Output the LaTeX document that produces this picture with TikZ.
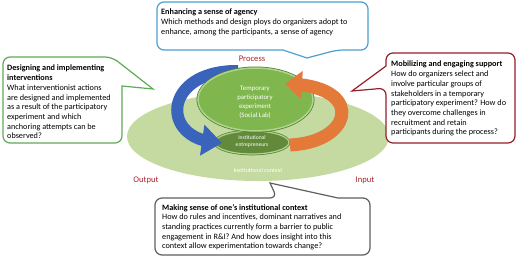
\documentclass[tikz,border=0pt]{standalone}
\usepackage{fontspec}
\setmainfont{Carlito}
\usetikzlibrary{arrows.meta,bending}
\definecolor{agencyblue}{RGB}{75,160,210}
\definecolor{interventgreen}{RGB}{95,170,85}
\definecolor{supportred}{RGB}{150,30,40}
\definecolor{contextgray}{RGB}{95,95,95}
\definecolor{labelred}{RGB}{170,35,45}
\definecolor{ctxgreen}{RGB}{196,218,160}
\definecolor{labgreen}{RGB}{128,182,78}
\definecolor{labring}{RGB}{175,212,140}
\definecolor{labedge}{RGB}{85,125,55}
\definecolor{entregreen}{RGB}{98,138,58}
\definecolor{arrowblue}{RGB}{58,100,188}
\definecolor{arroworange}{RGB}{228,122,58}
\begin{document}
\begin{tikzpicture}[x=1pt,y=-1pt,
  box/.style={line width=1.2pt,rounded corners=7pt,fill=white},
  boxtext/.style={anchor=north west,inner sep=0pt,align=left,font=\fontsize{8.2}{9.7}\selectfont},
  phase/.style={text=labelred,font=\fontsize{8.6}{10}\selectfont}]
\useasboundingbox (0,0) rectangle (520,257);
% institutional context
\fill[ctxgreen] (258,136.5) ellipse [x radius=131pt,y radius=44.5pt];
\node[text=white,font=\fontsize{6}{7}\selectfont] (ctx) at (258,170) {Institutional context};
% entrepreneurs
\draw[labedge,line width=2.6pt] (252,142.5) ellipse [x radius=37pt,y radius=11.5pt];
\draw[fill=entregreen,draw=labring,line width=1.2pt] (252,142.5) ellipse [x radius=37pt,y radius=11.5pt];
\node[text=white,align=center,font=\fontsize{5.6}{7}\selectfont] (entre) at (252,142) {Institutional\\entrepreneurs};
% blue arrow goes under the lab
\draw[arrowblue,line width=12pt,-{Triangle[width=30pt,length=20pt]}] (238,71) .. controls (162,70) and (158,142) .. (222,143);
% social lab
\draw[labedge,line width=3pt] (255.5,99.5) ellipse [x radius=57.5pt,y radius=31.5pt];
\draw[fill=labgreen,draw=labring,line width=1.5pt] (255.5,99.5) ellipse [x radius=57.5pt,y radius=31.5pt];
\node[text=white,align=center,font=\fontsize{6.8}{9}\selectfont] (lab) at (255,102) {Temporary\\participatory\\experiment\\(Social Lab)};
% orange arrow
\draw[arroworange,line width=13pt,-{Triangle[width=27pt,length=17pt]}] (290,145) .. controls (355,142) and (365,84) .. (285,84);
\node[phase] (process) at (252,59) {Process};
\node[phase] (output) at (146,180) {Output};
\node[phase] (input) at (365,180) {Input};
% callouts
\draw[box,draw=agencyblue] (157,2) -- (368,2) -- (368,50) -- (337,50) [sharp corners] -- (307,58) -- (283,50) [rounded corners=7pt] -- (157,50) -- cycle;
\node[boxtext] (agency) at (161,9) {\textbf{Enhancing a sense of agency}\\Which methods and design ploys do organizers adopt to\\enhance, among the participants, a sense of agency};
\draw[box,draw=interventgreen] (3,57) -- (112,57) [sharp corners] -- (153,89) -- (122,86) [rounded corners=7pt] -- (122,143) -- (3,143) -- cycle;
\node[boxtext] (interv) at (7,65) {\textbf{Designing and implementing}\\\textbf{interventions}\\What interventionist actions\\are designed and implemented\\as a result of the participatory\\experiment and which\\anchoring attempts can be\\observed?};
\draw[box,draw=supportred] (386,53) -- (515,53) -- (515,143) -- (386,143) -- (386,88) [sharp corners] -- (352,91) -- (386,66) [rounded corners=7pt] -- cycle;
\node[boxtext] (support) at (391,61) {\textbf{Mobilizing and engaging support}\\How do organizers select and\\involve particular groups of\\stakeholders in a temporary\\participatory experiment? How do\\they overcome challenges in\\recruitment and retain\\participants during the process?};
\draw[box,draw=contextgray] (155,198) -- (277,198) [sharp corners] -- (270,183) -- (338,198) [rounded corners=7pt] -- (370,198) -- (370,255) -- (155,255) -- cycle;
\node[boxtext] (context) at (162,204) {\textbf{Making sense of one’s institutional context}\\How do rules and incentives, dominant narratives and\\standing practices currently form a barrier to public\\engagement in R\&I? And how does insight into this\\context allow experimentation towards change?};
\end{tikzpicture}
\end{document}
